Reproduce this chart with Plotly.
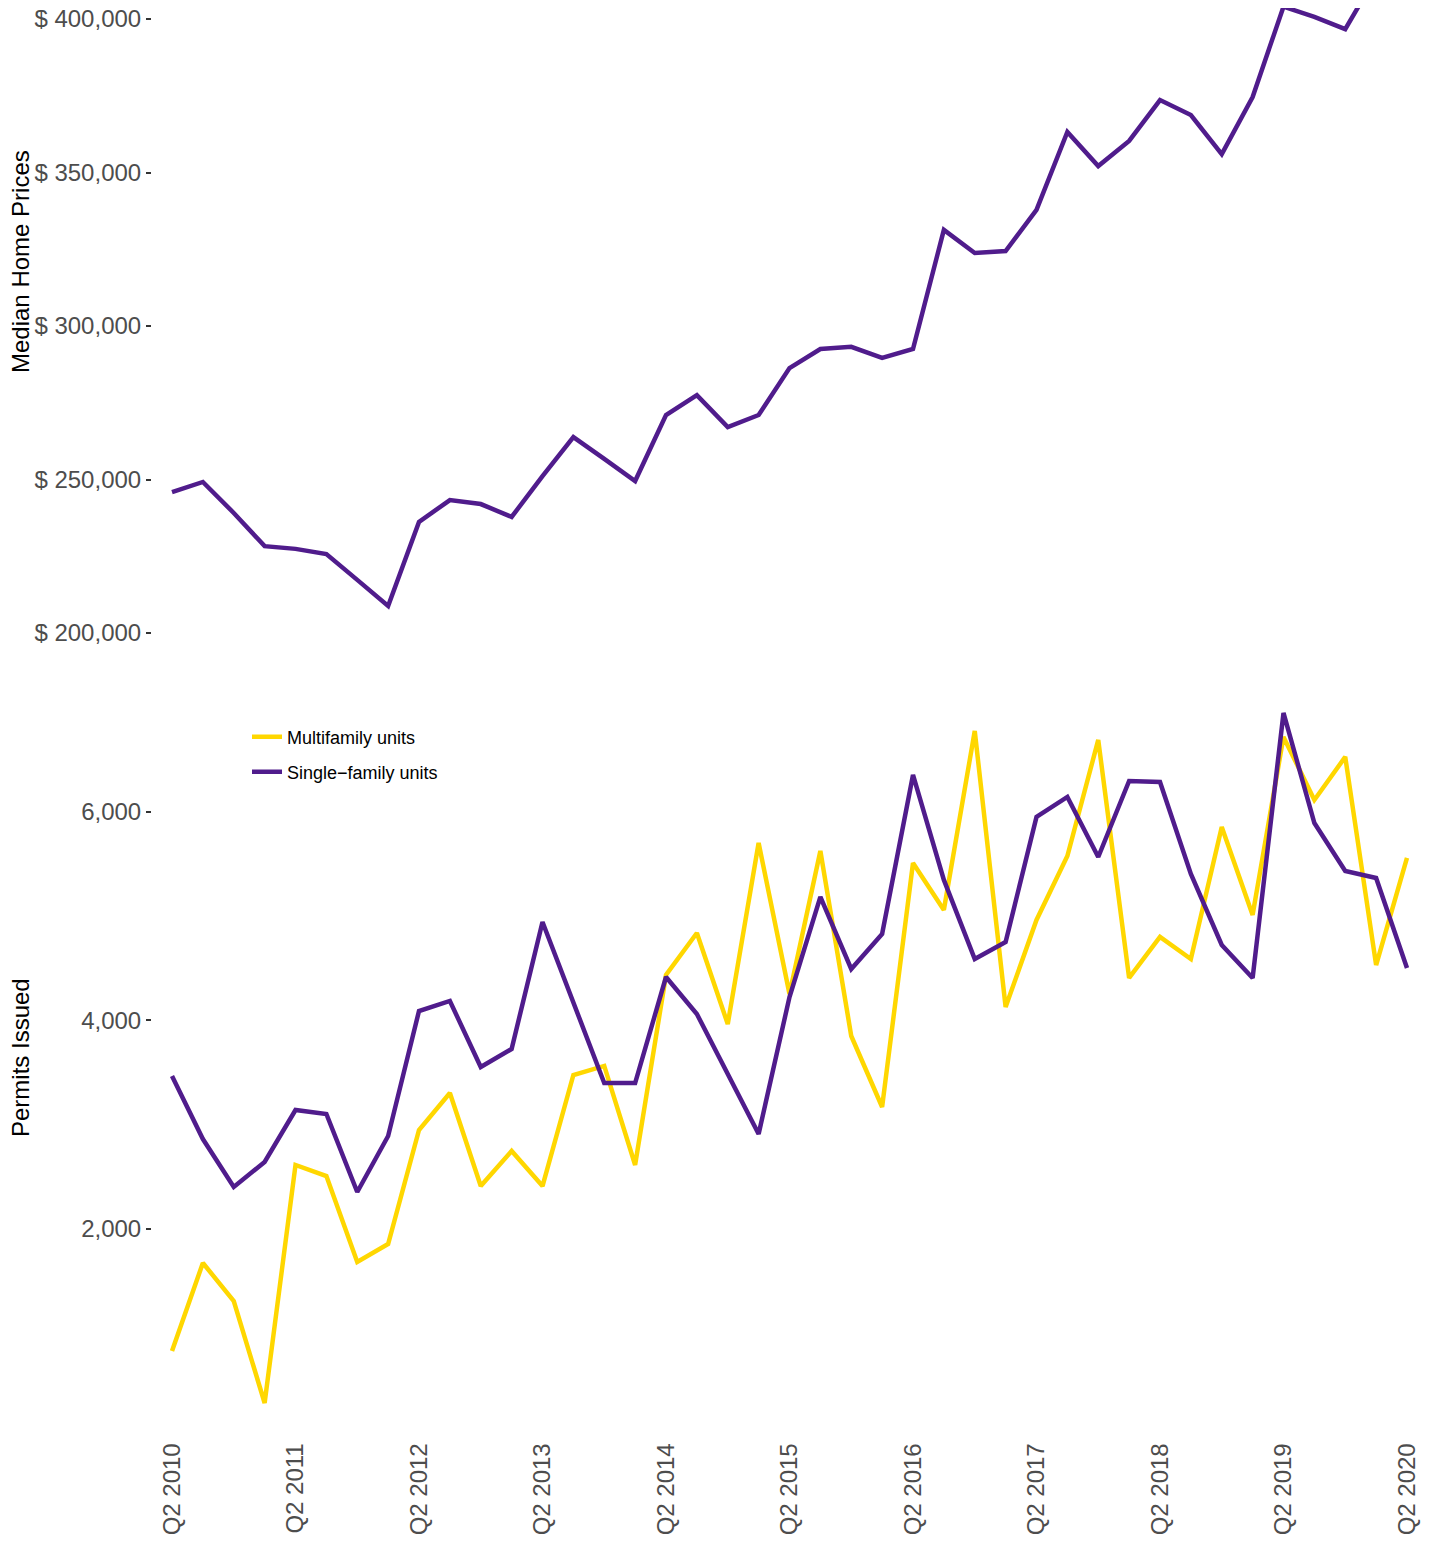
import plotly.graph_objects as go

# ---- data ----
years = list(range(2010, 2021))
quarters = []
for yr in years:
    for q in ["Q1", "Q2", "Q3", "Q4"]:
        quarters.append(f"{q} {yr}")
quarters = quarters[1:42]  # Q2 2010 .. Q2 2020

median_price = [245900, 249200, 239100, 228300, 227400, 225700, 217300, 208800,
                236200, 243300, 242000, 237800, 251100, 263800, 256700, 249500,
                271000, 277500, 267100, 271000, 286300, 292500, 293200, 289600,
                292500, 331300, 323800, 324400, 337800, 363200, 352100, 360300,
                373600, 368700, 356000, 374600, 404000, 400700, 396700, 413900,
                418000]

multifamily = [830, 1674, 1309, 331, 2614, 2508, 1683, 1856, 2950, 3305, 2412,
               2748, 2412, 3477, 3564, 2614, 4436, 4839, 3966, 5703, 4254, 5626,
               3851, 3170, 5511, 5060, 6777, 4129, 4964, 5578, 6691, 4408, 4801,
               4590, 5856, 5012, 6720, 6115, 6528, 4532, 5559]

single_family = [3468, 2863, 2403, 2643, 3141, 3103, 2355, 2892, 4091, 4187, 3554,
                 3727, 4945, 4168, 3400, 3400, 4417, 4062, 3487, 2911, 4225, 5185,
                 4494, 4830, 6355, 5348, 4590, 4753, 5952, 6144, 5568, 6297, 6288,
                 5405, 4724, 4408, 6950, 5894, 5434, 5367, 4504]

x_tick_labels = ["Q2 2010", "Q2 2011", "Q2 2012", "Q2 2013", "Q2 2014", "Q2 2015",
                 "Q2 2016", "Q2 2017", "Q2 2018", "Q2 2019", "Q2 2020"]
price_ticks = [200000, 250000, 300000, 350000, 400000]
price_tick_labels = ["$ 200,000", "$ 250,000", "$ 300,000", "$ 350,000", "$ 400,000"]
permit_ticks = [2000, 4000, 6000]
permit_tick_labels = ["2,000", "4,000", "6,000"]

YELLOW = "#FFD700"
PURPLE = "#501C8C"

# page has an 8px body margin; compensate so screen pixels match the reference
OFF = 8
W, H = 1435 - OFF, 1543 - OFF
def px_x(p):
    return (p - OFF) / W
def px_y(p):
    return 1 - (p - OFF) / H

fig = go.Figure()
fig.add_trace(go.Scatter(x=quarters, y=median_price, mode="lines",
                         line=dict(color=PURPLE, width=4.5), showlegend=False,
                         xaxis="x", yaxis="y"))
fig.add_trace(go.Scatter(x=quarters, y=multifamily, mode="lines",
                         name="Multifamily units", legend="legend",
                         line=dict(color=YELLOW, width=4.5),
                         xaxis="x2", yaxis="y2"))
fig.add_trace(go.Scatter(x=quarters, y=single_family, mode="lines",
                         name="Single\u2212family units", legend="legend2",
                         line=dict(color=PURPLE, width=4.5),
                         xaxis="x2", yaxis="y2"))

xrange = [-0.648, 40.648]
tickfont = dict(family="Liberation Sans, Arial, sans-serif", size=24, color="#4D4D4D")

# top panel: pixel 8 (screen top of figure) .. 660
top_px, bot_px = OFF, 660
def price_at(p):
    return 400000 - (p - 19) * (50000 / 153.5)

fig.update_layout(
    width=W, height=H,
    margin=dict(l=0, r=0, t=0, b=0),
    paper_bgcolor="white", plot_bgcolor="white",
    font=dict(family="Liberation Sans, Arial, sans-serif"),
    xaxis=dict(domain=[px_x(152), px_x(1427)], range=xrange, visible=False,
               categoryorder="array", categoryarray=quarters, anchor="y"),
    yaxis=dict(domain=[px_y(bot_px), 1], range=[price_at(bot_px), price_at(top_px)],
               anchor="x", tickmode="array", tickvals=price_ticks,
               ticktext=price_tick_labels, ticklabeloverflow="allow",
               ticks="outside", ticklen=5, tickwidth=1.5, tickcolor="#333333",
               showgrid=False, zeroline=False, showline=False,
               tickfont=tickfont, automargin=False),
    xaxis2=dict(domain=[px_x(152), px_x(1427)], range=xrange, anchor="y2",
                categoryorder="array", categoryarray=quarters,
                tickmode="array", tickvals=x_tick_labels, ticktext=x_tick_labels,
                tickangle=-90, ticks="", showgrid=False, zeroline=False,
                showline=False, tickfont=tickfont, automargin=False),
    yaxis2=dict(domain=[px_y(1437.5), px_y(678)], range=[0, 7285], anchor="x2",
                tickmode="array", tickvals=permit_ticks, ticktext=permit_tick_labels,
                ticks="outside", ticklen=5, tickwidth=1.5, tickcolor="#333333",
                showgrid=False, zeroline=False, showline=False,
                tickfont=tickfont, automargin=False),
    legend=dict(x=px_x(247), y=px_y(737), xanchor="left", yanchor="middle",
                bgcolor="rgba(0,0,0,0)", font=dict(size=18, color="black"),
                itemwidth=30),
    legend2=dict(x=px_x(247), y=px_y(772), xanchor="left", yanchor="middle",
                 bgcolor="rgba(0,0,0,0)", font=dict(size=18, color="black"),
                 itemwidth=30),
    annotations=[
        dict(text="Median Home Prices", textangle=-90, x=px_x(20), y=px_y(262),
             xref="paper", yref="paper", xanchor="center", yanchor="middle",
             showarrow=False, borderpad=0, font=dict(size=24, color="black")),
        dict(text="Permits Issued", textangle=-90, x=px_x(20), y=px_y(1058),
             xref="paper", yref="paper", xanchor="center", yanchor="middle",
             showarrow=False, borderpad=0, font=dict(size=24, color="black")),
    ],
)

fig.write_html("out.html")
